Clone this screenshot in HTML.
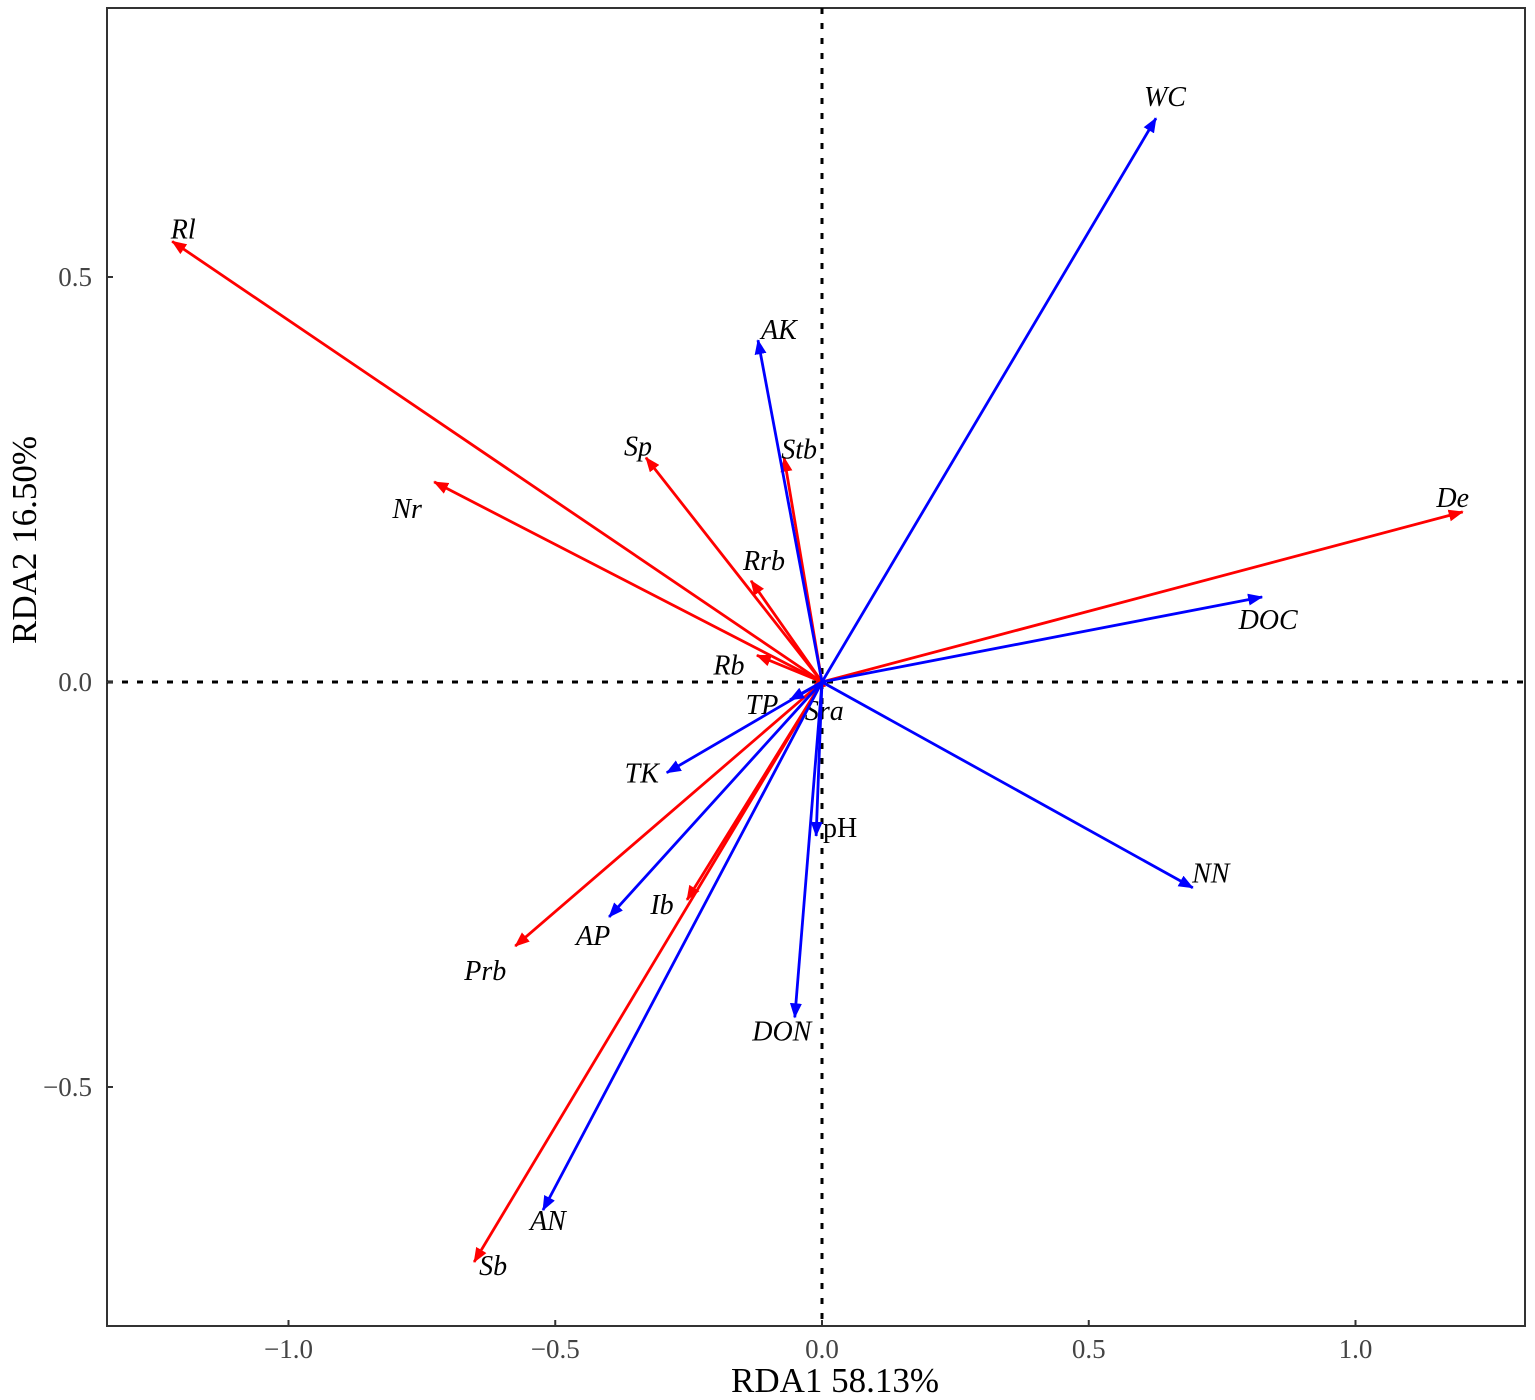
<!DOCTYPE html>
<html><head><meta charset="utf-8"><style>
html,body{margin:0;padding:0;background:#fff}
svg{display:block}
text{font-family:"Liberation Serif",serif}
</style></head><body>
<svg id="chart" width="1535" height="1400" xmlns="http://www.w3.org/2000/svg">
<defs>
<marker id="ar" markerWidth="16" markerHeight="12" refX="14" refY="6" orient="auto" markerUnits="userSpaceOnUse"><path d="M0,0 L15,6 L0,12 Z" fill="#f00"/></marker>
<marker id="ab" markerWidth="16" markerHeight="12" refX="14" refY="6" orient="auto" markerUnits="userSpaceOnUse"><path d="M0,0 L15,6 L0,12 Z" fill="#00f"/></marker>
</defs>
<g id="plot"></g>
</svg>
<script>
const redNames=["Rl","Nr","Sp","Stb","Rrb","Rb","Sra","Ib","Prb","Sb","De"];
const redX=[-1.218,-0.727,-0.330,-0.071,-0.133,-0.122,-0.02,-0.253,-0.575,-0.652,1.201];
const redY=[0.544,0.247,0.277,0.277,0.125,0.033,-0.01,-0.269,-0.326,-0.716,0.210];
const blueNames=["WC","AK","DOC","TP","TK","pH","AP","AN","DON","NN"];
const blueX=[0.626,-0.120,0.825,-0.060,-0.291,-0.011,-0.399,-0.523,-0.051,0.695];
const blueY=[0.696,0.422,0.105,-0.022,-0.112,-0.190,-0.290,-0.652,-0.414,-0.254];
const xTicks=[-1.0,-0.5,0.0,0.5,1.0];
const yTicks=[0.5,0.0,-0.5];
const redOff=[[11,-13],[-27,26],[-8,-12],[15,-9],[13,-21],[-28,9],[13,20],[-25,4],[-30,24],[19,3],[-10,-15]];
const blueOff=[[9,-22],[21,-11],[6,22],[-28,4],[-25,0],[24,-9],[-16,18],[5,10],[-13,13],[18,-15]];
const X=v=>822+v*533.5, Y=v=>682-v*810;
const g=document.getElementById('plot');
const NS="http://www.w3.org/2000/svg";
function mk(t,a,p){const e=document.createElementNS(NS,t);for(const k in a)e.setAttribute(k,a[k]);(p||g).appendChild(e);return e;}
let e=mk('rect',{x:107,y:8,width:1418,height:1318,fill:'none',stroke:'#333','stroke-width':2});


e=mk('line',{x1:107,x2:1525,y1:Y(0),y2:Y(0),stroke:'#000','stroke-width':3,'stroke-dasharray':'6,9'});


e=mk('line',{x1:X(0),x2:X(0),y1:8,y2:1326,stroke:'#000','stroke-width':3,'stroke-dasharray':'6,9'});


xTicks.forEach(v=>{
 e=mk('line',{x1:X(v),x2:X(v),y1:1326,y2:1320,stroke:'#333','stroke-width':2});
 
 
 e=mk('text',{x:X(v),y:1358,'text-anchor':'middle','font-size':27,fill:'#444'});
 e.textContent=(v<0?'\u2212':'')+Math.abs(v).toFixed(1);
 
 
});
yTicks.forEach(v=>{
 e=mk('line',{x1:107,x2:113,y1:Y(v),y2:Y(v),stroke:'#333','stroke-width':2});
 
 
 e=mk('text',{x:92,y:Y(v)+9,'text-anchor':'end','font-size':27,fill:'#444'});
 e.textContent=(v<0?'\u2212':'')+Math.abs(v).toFixed(1);
 
 
});
e=mk('text',{x:835,y:1392,'text-anchor':'middle','font-size':35});
e.textContent='RDA1 58.13%';


e=mk('text',{x:0,y:0,'text-anchor':'middle','font-size':35,transform:'translate(36,540) rotate(-90)'});
e.textContent='RDA2 16.50%';


function series(names,xs,ys,off,col,mid,prefix){
 names.forEach((n,i)=>{
  const l=mk('line',{x1:X(0),y1:Y(0),x2:X(xs[i]),y2:Y(ys[i]),stroke:col,'stroke-width':2.8,'marker-end':'url(#'+mid+')'});
  
  
  const t=mk('text',{x:X(xs[i])+off[i][0],y:Y(ys[i])+off[i][1]+10,'text-anchor':'middle','font-size':28,'font-style':n==='pH'?'normal':'italic'});
  t.textContent=n;
  
  
 });
}
series(redNames,redX,redY,redOff,'#f00','ar','response');
series(blueNames,blueX,blueY,blueOff,'#00f','ab','env');
</script>
</body></html>
